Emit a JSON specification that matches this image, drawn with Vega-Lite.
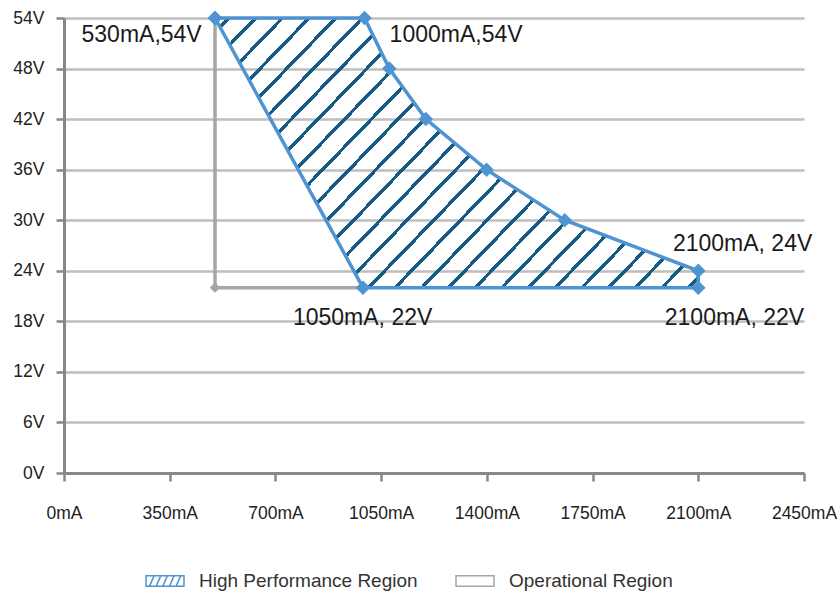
{
  "$schema": "https://vega.github.io/schema/vega-lite/v6.json",
  "autosize": "none",
  "width": 740,
  "height": 455,
  "padding": {"left": 64, "top": 18, "right": 34, "bottom": 122},
  "background": "white",
  "datasets": {
    "hp": [
      {"mA": 500, "V": 54, "i": 0, "region": "High Performance Region"},
      {"mA": 995, "V": 54, "i": 1, "region": "High Performance Region"},
      {"mA": 1077, "V": 48, "i": 2, "region": "High Performance Region"},
      {"mA": 1198, "V": 42, "i": 3, "region": "High Performance Region"},
      {"mA": 1399, "V": 36, "i": 4, "region": "High Performance Region"},
      {"mA": 1658, "V": 30, "i": 5, "region": "High Performance Region"},
      {"mA": 2100, "V": 24, "i": 6, "region": "High Performance Region"},
      {"mA": 2100, "V": 22, "i": 7, "region": "High Performance Region"},
      {"mA": 990, "V": 22, "i": 8, "region": "High Performance Region"},
      {"mA": 500, "V": 54, "i": 9, "region": "High Performance Region"}
    ],
    "op": [
      {"mA": 500, "V": 54, "i": 0, "region": "Operational Region"},
      {"mA": 500, "V": 22, "i": 1, "region": "Operational Region"},
      {"mA": 990, "V": 22, "i": 2, "region": "Operational Region"}
    ],
    "labels": [
      {"text": "530mA,54V", "mA": 58, "V": 51.2},
      {"text": "1000mA,54V", "mA": 1078, "V": 51.2},
      {"text": "1050mA, 22V", "mA": 758, "V": 17.6},
      {"text": "2100mA, 24V", "mA": 2016, "V": 26.4},
      {"text": "2100mA, 22V", "mA": 1989, "V": 17.6}
    ]
  },
  "encoding": {
    "x": {
      "field": "mA",
      "type": "quantitative",
      "scale": {"domain": [0, 2450], "nice": false, "zero": false},
      "axis": {
        "values": [0, 350, 700, 1050, 1400, 1750, 2100, 2450],
        "labelExpr": "datum.value + 'mA'",
        "title": null,
        "grid": false,
        "domainColor": "#878787",
        "domainWidth": 3,
        "tickColor": "#878787",
        "tickWidth": 2.5,
        "tickSize": 8,
        "labelPadding": 23,
        "labelFont": "Liberation Sans",
        "labelFontSize": 17.5,
        "labelColor": "#222222",
        "labelOverlap": false,
        "labelFlush": false
      }
    },
    "y": {
      "field": "V",
      "type": "quantitative",
      "scale": {"domain": [0, 54], "nice": false, "zero": false},
      "axis": {
        "values": [0, 6, 12, 18, 24, 30, 36, 42, 48, 54],
        "labelExpr": "datum.value + 'V'",
        "title": null,
        "grid": true,
        "gridColor": "#BEBEBE",
        "gridWidth": 2.5,
        "domainColor": "#878787",
        "domainWidth": 3,
        "tickColor": "#878787",
        "tickWidth": 2.5,
        "tickSize": 8,
        "labelPadding": 12,
        "labelFont": "Liberation Sans",
        "labelFontSize": 17.5,
        "labelColor": "#222222",
        "labelOverlap": false,
        "labelFlush": false
      }
    }
  },
  "layer": [
    {
      "data": {"name": "op"},
      "mark": {"type": "line", "strokeWidth": 3.5, "strokeJoin": "miter"},
      "encoding": {
        "order": {"field": "i", "type": "quantitative"},
        "color": {
          "field": "region",
          "type": "nominal",
          "scale": {
            "domain": ["High Performance Region", "Operational Region"],
            "range": ["#4F94D2", "#A6A6A6"]
          },
          "legend": {
            "orient": "none",
            "legendX": 81,
            "legendY": 543,
            "direction": "horizontal",
            "title": null,
            "padding": 0,
            "symbolSize": 1444,
            "labelFont": "Liberation Sans",
            "labelFontSize": 19,
            "labelColor": "#333333",
            "labelOffset": 14,
            "columnPadding": 35,
            "labelLimit": 400,
            "encode": {
              "symbols": {
                "update": {
                  "shape": {"signal": "datum.value === 'High Performance Region' ? 'M-1,-0.28H1V0.28H-1Z M-0.82,0.28L-0.57,-0.28 M-0.47,0.28L-0.22,-0.28 M-0.12,0.28L0.13,-0.28 M0.23,0.28L0.48,-0.28 M0.58,0.28L0.83,-0.28' : 'M-1,-0.28H1V0.28H-1Z'"},
                  "fill": {"value": "white"},
                  "strokeWidth": {"value": 1.5},
                  "opacity": {"value": 1}
                }
              }
            }
          }
        }
      }
    },
    {
      "data": {"name": "op"},
      "transform": [{"filter": "datum.i == 1"}],
      "mark": {"type": "point", "shape": "diamond", "filled": true, "size": 110, "color": "#A6A6A6", "opacity": 1}
    },
    {
      "data": {"name": "hp"},
      "mark": {
        "type": "line",
        "strokeWidth": 3.5,
        "strokeJoin": "miter",
        "fill": {
          "gradient": "linear",
          "x1": 0, "y1": 0, "x2": 1.1924, "y2": 0.6438,
          "stops": [
            {"offset": 0, "color": "rgba(23,90,131,0)"},
            {"offset": 0.0155, "color": "rgba(23,90,131,0)"}, {"offset": 0.0155, "color": "#175A83"}, {"offset": 0.0219, "color": "#175A83"}, {"offset": 0.0219, "color": "rgba(23,90,131,0)"},
            {"offset": 0.0514, "color": "rgba(23,90,131,0)"}, {"offset": 0.0514, "color": "#175A83"}, {"offset": 0.0578, "color": "#175A83"}, {"offset": 0.0578, "color": "rgba(23,90,131,0)"},
            {"offset": 0.0873, "color": "rgba(23,90,131,0)"}, {"offset": 0.0873, "color": "#175A83"}, {"offset": 0.0937, "color": "#175A83"}, {"offset": 0.0937, "color": "rgba(23,90,131,0)"},
            {"offset": 0.1231, "color": "rgba(23,90,131,0)"}, {"offset": 0.1231, "color": "#175A83"}, {"offset": 0.1295, "color": "#175A83"}, {"offset": 0.1295, "color": "rgba(23,90,131,0)"},
            {"offset": 0.1590, "color": "rgba(23,90,131,0)"}, {"offset": 0.1590, "color": "#175A83"}, {"offset": 0.1654, "color": "#175A83"}, {"offset": 0.1654, "color": "rgba(23,90,131,0)"},
            {"offset": 0.1949, "color": "rgba(23,90,131,0)"}, {"offset": 0.1949, "color": "#175A83"}, {"offset": 0.2013, "color": "#175A83"}, {"offset": 0.2013, "color": "rgba(23,90,131,0)"},
            {"offset": 0.2308, "color": "rgba(23,90,131,0)"}, {"offset": 0.2308, "color": "#175A83"}, {"offset": 0.2372, "color": "#175A83"}, {"offset": 0.2372, "color": "rgba(23,90,131,0)"},
            {"offset": 0.2666, "color": "rgba(23,90,131,0)"}, {"offset": 0.2666, "color": "#175A83"}, {"offset": 0.2730, "color": "#175A83"}, {"offset": 0.2730, "color": "rgba(23,90,131,0)"},
            {"offset": 0.3025, "color": "rgba(23,90,131,0)"}, {"offset": 0.3025, "color": "#175A83"}, {"offset": 0.3089, "color": "#175A83"}, {"offset": 0.3089, "color": "rgba(23,90,131,0)"},
            {"offset": 0.3384, "color": "rgba(23,90,131,0)"}, {"offset": 0.3384, "color": "#175A83"}, {"offset": 0.3448, "color": "#175A83"}, {"offset": 0.3448, "color": "rgba(23,90,131,0)"},
            {"offset": 0.3742, "color": "rgba(23,90,131,0)"}, {"offset": 0.3742, "color": "#175A83"}, {"offset": 0.3806, "color": "#175A83"}, {"offset": 0.3806, "color": "rgba(23,90,131,0)"},
            {"offset": 0.4101, "color": "rgba(23,90,131,0)"}, {"offset": 0.4101, "color": "#175A83"}, {"offset": 0.4165, "color": "#175A83"}, {"offset": 0.4165, "color": "rgba(23,90,131,0)"},
            {"offset": 0.4460, "color": "rgba(23,90,131,0)"}, {"offset": 0.4460, "color": "#175A83"}, {"offset": 0.4524, "color": "#175A83"}, {"offset": 0.4524, "color": "rgba(23,90,131,0)"},
            {"offset": 0.4818, "color": "rgba(23,90,131,0)"}, {"offset": 0.4818, "color": "#175A83"}, {"offset": 0.4882, "color": "#175A83"}, {"offset": 0.4882, "color": "rgba(23,90,131,0)"},
            {"offset": 0.5177, "color": "rgba(23,90,131,0)"}, {"offset": 0.5177, "color": "#175A83"}, {"offset": 0.5241, "color": "#175A83"}, {"offset": 0.5241, "color": "rgba(23,90,131,0)"},
            {"offset": 0.5536, "color": "rgba(23,90,131,0)"}, {"offset": 0.5536, "color": "#175A83"}, {"offset": 0.5600, "color": "#175A83"}, {"offset": 0.5600, "color": "rgba(23,90,131,0)"},
            {"offset": 0.5895, "color": "rgba(23,90,131,0)"}, {"offset": 0.5895, "color": "#175A83"}, {"offset": 0.5959, "color": "#175A83"}, {"offset": 0.5959, "color": "rgba(23,90,131,0)"},
            {"offset": 0.6253, "color": "rgba(23,90,131,0)"}, {"offset": 0.6253, "color": "#175A83"}, {"offset": 0.6317, "color": "#175A83"}, {"offset": 0.6317, "color": "rgba(23,90,131,0)"},
            {"offset": 0.6612, "color": "rgba(23,90,131,0)"}, {"offset": 0.6612, "color": "#175A83"}, {"offset": 0.6676, "color": "#175A83"}, {"offset": 0.6676, "color": "rgba(23,90,131,0)"},
            {"offset": 0.6971, "color": "rgba(23,90,131,0)"}, {"offset": 0.6971, "color": "#175A83"}, {"offset": 0.7035, "color": "#175A83"}, {"offset": 0.7035, "color": "rgba(23,90,131,0)"},
            {"offset": 0.7329, "color": "rgba(23,90,131,0)"}, {"offset": 0.7329, "color": "#175A83"}, {"offset": 0.7393, "color": "#175A83"}, {"offset": 0.7393, "color": "rgba(23,90,131,0)"},
            {"offset": 0.7688, "color": "rgba(23,90,131,0)"}, {"offset": 0.7688, "color": "#175A83"}, {"offset": 0.7752, "color": "#175A83"}, {"offset": 0.7752, "color": "rgba(23,90,131,0)"},
            {"offset": 0.8047, "color": "rgba(23,90,131,0)"}, {"offset": 0.8047, "color": "#175A83"}, {"offset": 0.8111, "color": "#175A83"}, {"offset": 0.8111, "color": "rgba(23,90,131,0)"},
            {"offset": 0.8405, "color": "rgba(23,90,131,0)"}, {"offset": 0.8405, "color": "#175A83"}, {"offset": 0.8469, "color": "#175A83"}, {"offset": 0.8469, "color": "rgba(23,90,131,0)"},
            {"offset": 0.8764, "color": "rgba(23,90,131,0)"}, {"offset": 0.8764, "color": "#175A83"}, {"offset": 0.8828, "color": "#175A83"}, {"offset": 0.8828, "color": "rgba(23,90,131,0)"},
            {"offset": 0.9123, "color": "rgba(23,90,131,0)"}, {"offset": 0.9123, "color": "#175A83"}, {"offset": 0.9187, "color": "#175A83"}, {"offset": 0.9187, "color": "rgba(23,90,131,0)"},
            {"offset": 0.9481, "color": "rgba(23,90,131,0)"}, {"offset": 0.9481, "color": "#175A83"}, {"offset": 0.9545, "color": "#175A83"}, {"offset": 0.9545, "color": "rgba(23,90,131,0)"},
            {"offset": 0.9840, "color": "rgba(23,90,131,0)"}, {"offset": 0.9840, "color": "#175A83"}, {"offset": 0.9904, "color": "#175A83"}, {"offset": 0.9904, "color": "rgba(23,90,131,0)"},
            {"offset": 1, "color": "rgba(23,90,131,0)"}
          ]
        }
      },
      "encoding": {
        "order": {"field": "i", "type": "quantitative"},
        "color": {"field": "region", "type": "nominal"}
      }
    },
    {
      "data": {"name": "hp"},
      "mark": {"type": "point", "shape": "diamond", "filled": true, "size": 210, "color": "#4F94D2", "opacity": 1}
    },
    {
      "data": {"name": "labels"},
      "mark": {
        "type": "text",
        "align": "left",
        "baseline": "alphabetic",
        "font": "Liberation Sans",
        "fontSize": 23,
        "color": "#1A1A1A"
      },
      "encoding": {
        "text": {"field": "text", "type": "nominal"}
      }
    }
  ],
  "config": {
    "view": {"stroke": null}
  }
}
